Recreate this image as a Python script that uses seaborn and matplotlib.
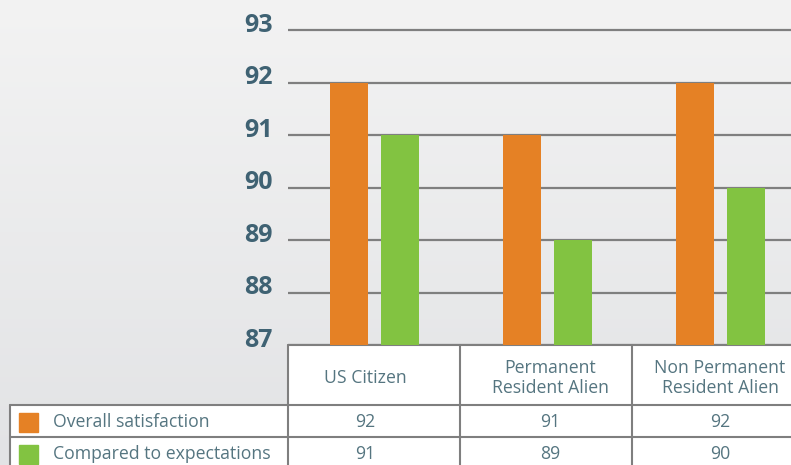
import matplotlib
matplotlib.use("Agg")
import matplotlib.pyplot as plt
import matplotlib.transforms as mtransforms
import seaborn as sns
import pandas as pd
import numpy as np

# chart data
categories = ["US Citizen", "Permanent\nResident Alien", "Non Permanent\nResident Alien"]
series_names = ["Overall satisfaction", "Compared to expectations"]
overall = [92, 91, 92]
compared = [91, 89, 90]
y_ticks = [87, 88, 89, 90, 91, 92, 93]

ORANGE = "#E58125"
GREEN = "#82C341"
TICK_COLOR = "#3F6273"
TEXT_COLOR = "#557580"
LINE_COLOR = "#7F7F7F"

sns.set_style("white")
plt.rcParams["font.family"] = ["Open Sans", "DejaVu Sans"]

W, H = 791, 465
fig = plt.figure(figsize=(W / 100, H / 100), dpi=100)

# background gradient
bg = fig.add_axes([0, 0, 1, 1])
grad = np.linspace(0, 1, 256).reshape(-1, 1)
cmap = matplotlib.colors.LinearSegmentedColormap.from_list("bg", ["#F3F3F3", "#E2E3E5"])
bg.imshow(grad, aspect="auto", cmap=cmap, extent=[0, W, H, 0])
bg.set_xlim(0, W)
bg.set_ylim(H, 0)
bg.axis("off")

# plot axes in pixel layout
x0, x1 = 288, 791
ybot, ytop = 345, 0
bar_step = 173
ax = fig.add_axes([x0 / W, (H - ybot) / H, (x1 - x0) / W, (ybot - ytop) / H])
ax.patch.set_alpha(0)

df = pd.DataFrame({
    "category": categories * 2,
    "series": [series_names[0]] * 3 + [series_names[1]] * 3,
    "value": overall + compared,
})
sns.barplot(data=df, x="category", y="value", hue="series",
            palette=[ORANGE, GREEN], width=0.58, gap=0.24, linewidth=0,
            ax=ax, legend=False, zorder=3, saturation=1)

px_per_unit = (345 - 30) / 6.0
ax.set_ylim(87, 93 + 30 / px_per_unit)
ax.set_xlim(-0.5, -0.5 + (x1 - x0) / bar_step)
ax.set_yticks(y_ticks)
ax.set_yticklabels([str(t) for t in y_ticks], fontsize=18, fontweight="bold", color=TICK_COLOR)
ax.tick_params(axis="y", length=0, pad=11)
shift = mtransforms.ScaledTranslation(0, 8 / 100, fig.dpi_scale_trans)
for lab in ax.get_yticklabels():
    lab.set_transform(lab.get_transform() + shift)
ax.set_xticks([])
ax.set_xlabel("")
ax.set_ylabel("")
for s in ax.spines.values():
    s.set_visible(False)
for t in y_ticks:
    ax.axhline(t, color=LINE_COLOR, lw=1.6, zorder=1)

# data table drawn in pixel coordinates on the background axes
lw = 1.5
col_w = 172
col_x = [x0 + i * col_w for i in range(len(categories) + 1)]
text_x = [365, 550, 720]
leg_x = 10
kw = dict(color=LINE_COLOR, lw=lw, zorder=5)
bg.add_patch(plt.Rectangle((x0, 345), W - x0, H - 345, color="white", zorder=2))
bg.add_patch(plt.Rectangle((leg_x, 405), x0 - leg_x, H - 405, color="white", zorder=2))
bg.plot([x0, W], [345, 345], **kw)
bg.plot([leg_x, W], [405, 405], **kw)
bg.plot([leg_x, W], [437, 437], **kw)
bg.plot([leg_x, leg_x], [405, H], **kw)
for cx in col_x:
    bg.plot([cx, cx], [345, H], **kw)

fs = 12.7
for i, cat in enumerate(categories):
    cx = text_x[i]
    bg.text(cx, 378, cat, ha="center", va="center", fontsize=fs,
            color=TEXT_COLOR, linespacing=1.2, zorder=6)
    bg.text(cx, 422, str(overall[i]), ha="center", va="center", fontsize=fs,
            color=TEXT_COLOR, zorder=6)
    bg.text(cx, 454, str(compared[i]), ha="center", va="center", fontsize=fs,
            color=TEXT_COLOR, zorder=6)

for name, color, yc in zip(series_names, [ORANGE, GREEN], [422, 454]):
    bg.add_patch(plt.Rectangle((19, yc - 9.5), 19, 19, color=color, zorder=6))
    bg.text(53, yc, name, ha="left", va="center", fontsize=fs, color=TEXT_COLOR, zorder=6)

fig.savefig("out.png", dpi=100)
